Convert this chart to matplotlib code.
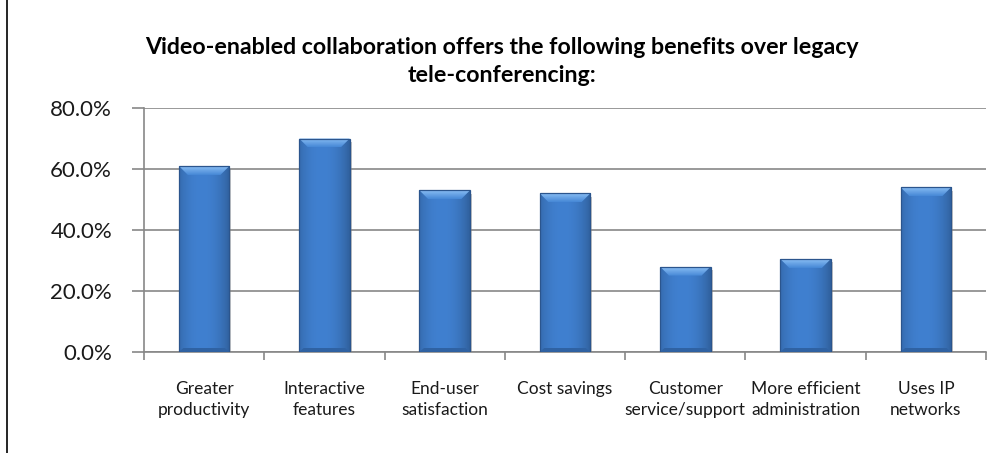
import numpy as np
import matplotlib.pyplot as plt
from matplotlib import patheffects
from matplotlib.patches import Polygon, Rectangle
from matplotlib.ticker import FuncFormatter, MultipleLocator

plt.rcParams['font.family'] = ['Lato', 'DejaVu Sans']

# Survey results
categories = [
    "Greater\nproductivity",
    "Interactive\nfeatures",
    "End-user\nsatisfaction",
    "Cost savings",
    "Customer\nservice/support",
    "More efficient\nadministration",
    "Uses IP\nnetworks",
]
values = [0.61, 0.70, 0.53, 0.52, 0.28, 0.305, 0.54]
title = ("Video-enabled collaboration offers the following benefits over legacy\n"
         "tele-conferencing:")

fig = plt.figure(figsize=(10.04, 4.53), dpi=100)
ax = fig.add_axes([144 / 1004, 1 - 352 / 453, (986 - 144) / 1004, (352 - 108) / 453])

x = np.arange(len(categories))
bar_w = 0.42
bars = ax.bar(x, values, width=bar_w, color="#3E7ECC", zorder=3,
              path_effects=[patheffects.SimplePatchShadow(offset=(1.5, -2.5),
                                                          shadow_rgbFace="#808080",
                                                          alpha=0.45),
                            patheffects.Normal()])

ax.set_xlim(-0.5, len(categories) - 0.5)
ax.set_ylim(0, 0.8)

# pixel -> data conversions for the bevel shading
px_x = 1.0 / ((986 - 144) / len(categories))
px_y = 0.8 / (352 - 108)

# horizontal shading of the bar face
t = np.linspace(0, 1, 64)
shade = 1 - 0.9 * np.abs(t - 0.45) ** 2.2
face = np.array([64, 128, 208]) / 255.0
face_img = shade[None, :, None] * face[None, None, :]
# vertical shading of the top bevel
bev_top = np.array([138, 190, 244]) / 255.0
bev_bot = np.array([70, 136, 214]) / 255.0
tv = np.linspace(0, 1, 32)[:, None]
bevel_img = (bev_top * (1 - tv) + bev_bot * tv)[:, None, :]

for b in bars:
    x0, y0 = b.get_x(), b.get_y()
    w, h = b.get_width(), b.get_height()
    im = ax.imshow(face_img, extent=(x0, x0 + w, y0, y0 + h), aspect="auto",
                   zorder=3.1, interpolation="bilinear")
    im.set_clip_path(b)
    bev = 9 * px_y
    side = 9 * px_x
    top = Polygon([(x0, y0 + h), (x0 + w, y0 + h), (x0 + w - side, y0 + h - bev),
                   (x0 + side, y0 + h - bev)], closed=True,
                  facecolor="none", edgecolor="none", zorder=3.2)
    ax.add_patch(top)
    bim = ax.imshow(bevel_img, extent=(x0, x0 + w, y0 + h - bev, y0 + h),
                    aspect="auto", zorder=3.2, interpolation="bilinear")
    bim.set_clip_path(top)
    bot = Polygon([(x0, y0), (x0 + w, y0), (x0 + w - side * 0.5, y0 + 4 * px_y),
                   (x0 + side * 0.5, y0 + 4 * px_y)], closed=True,
                  facecolor="#2F62A3", edgecolor="none", zorder=3.2)
    ax.add_patch(bot)
    ax.add_patch(Rectangle((x0, y0), w, h, facecolor="none",
                           edgecolor="#2B558D", linewidth=0.9, zorder=3.4))

ax.yaxis.set_major_locator(MultipleLocator(0.2))
ax.yaxis.set_major_formatter(FuncFormatter(lambda v, _: f"{v * 100:.1f}%"))
ax.grid(axis="y", color="#878787", linewidth=1.2, zorder=0)

ax.set_xticks(np.arange(len(categories) + 1) - 0.5, minor=False)
ax.set_xticklabels([])
ax.set_xticks(x, minor=True)
ax.set_xticklabels(categories, minor=True, fontsize=12.5, color="#1a1a1a",
                   linespacing=1.4)
ax.tick_params(axis="x", which="major", direction="out", length=6,
               color="#878787", width=1.2)
ax.tick_params(axis="x", which="minor", length=0, pad=21)
ax.tick_params(axis="y", direction="out", length=9, color="#878787",
               width=1.2, labelsize=16, pad=14, labelcolor="#1a1a1a")

for s in ["top", "right"]:
    ax.spines[s].set_visible(False)
ax.spines["left"].set_color("#878787")
ax.spines["left"].set_linewidth(1.2)
ax.spines["bottom"].set_color("#878787")
ax.spines["bottom"].set_linewidth(1.2)

fig.text(0.5, 1 - 86 / 453, title, ha="center", va="bottom", fontsize=16.7,
         fontweight="bold", linespacing=1.4)

# page border at the left
fig.add_artist(plt.Line2D([7.5 / 1004, 7.5 / 1004], [0, 1], color="black",
                          linewidth=1.2, transform=fig.transFigure))

fig.savefig("out.png", dpi=100)
